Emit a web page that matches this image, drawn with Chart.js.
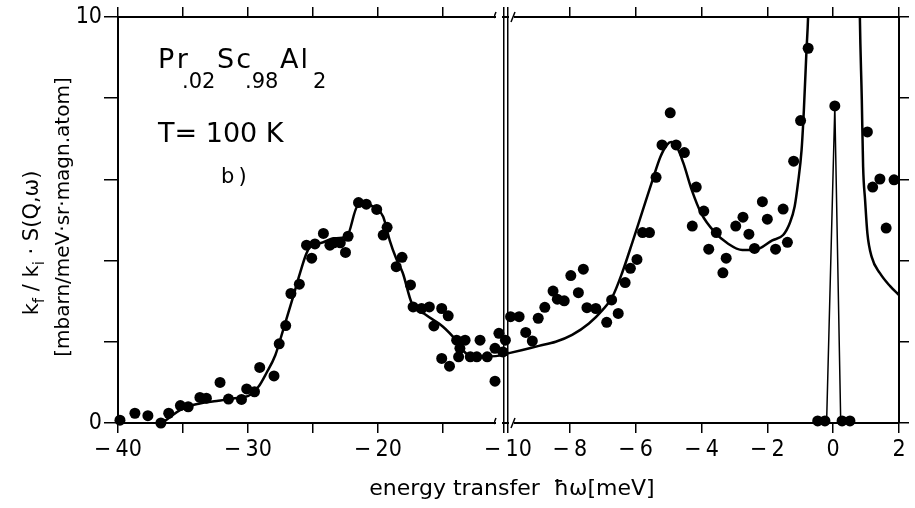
<!DOCTYPE html>
<html>
<head>
<meta charset="utf-8">
<script src="https://cdn.jsdelivr.net/npm/chart.js@4.4.0/dist/chart.umd.min.js"></script>
<style>
  html, body { margin: 0; padding: 0; background: #fff; }
  #wrap { position: relative; width: 915px; height: 508px; }
  #left { position: absolute; left: 0; top: 0; }
  #right { position: absolute; left: 494px; top: 0; }
</style>
</head>
<body>
<div id="wrap">
  <canvas id="left" width="915" height="508"></canvas>
  <canvas id="right" width="421" height="508"></canvas>
</div>
<script>
// measured points, left part of the broken axis (-40 ... -10 meV)
var leftX = [-39.85, -38.7, -37.7, -36.7, -36.1, -35.2, -34.6, -33.7, -33.2, -32.15,
  -31.5, -30.5, -30.1, -29.5, -29.1, -28.0, -27.6, -27.1, -26.7, -26.05,
  -25.5, -25.1, -24.85, -24.2, -23.7, -23.4, -22.9, -22.5, -22.3, -21.5,
  -20.9, -20.1, -19.6, -19.3, -18.6, -18.15, -17.5, -17.3, -16.65, -16.05,
  -15.7, -15.1, -14.6, -15.1, -14.5, -13.95, -13.7, -13.3, -13.8, -12.9,
  -12.15, -12.4, -11.6, -11.0, -10.7, -10.2, -11.0, -10.4];
var leftY = [0.07, 0.24, 0.18, 0.0, 0.24, 0.43, 0.40, 0.63, 0.61, 1.0,
  0.59, 0.58, 0.84, 0.77, 1.37, 1.16, 1.95, 2.40, 3.19, 3.42,
  4.38, 4.06, 4.41, 4.67, 4.38, 4.44, 4.44, 4.2, 4.6, 5.43,
  5.39, 5.26, 4.63, 4.82, 3.85, 4.08, 3.40, 2.86, 2.82, 2.86,
  2.39, 2.82, 2.64, 1.59, 1.40, 2.04, 1.84, 2.04, 1.63, 1.63,
  2.04, 1.63, 1.63, 1.84, 2.21, 2.04, 1.03, 1.75];

// fitted curve, left part
var leftFitX = [-36.6, -35, -33.7, -32.4, -31.2, -29.85, -29.2, -28.6, -27.9, -27.3,
  -26.6, -26.0, -25.5, -25.0, -24.5, -23.4, -22.4, -21.6, -20.9, -20.1,
  -19.6, -19.1, -18.6, -18.1, -17.4, -16.3, -15.0, -14.0, -13.2, -11.9, -10.4, -10];
var leftFitY = [0.0, 0.36, 0.48, 0.54, 0.6, 0.69, 0.89, 1.22, 1.67, 2.29,
  3.03, 3.69, 4.18, 4.43, 4.43, 4.55, 4.59, 5.33, 5.39, 5.27,
  5.08, 4.5, 4.05, 3.7, 2.95, 2.66, 2.37, 2.04, 1.71, 1.63, 1.67, 1.69];

// measured points, right part (-10 ... 2 meV)
var rightX = [-9.80, -9.54, -9.34, -9.14, -8.96, -8.76, -8.51, -8.38, -8.17, -7.97,
  -7.74, -7.59, -7.48, -7.21, -6.88, -6.73, -6.53, -6.32, -6.16, -5.96,
  -5.79, -5.58, -5.38, -5.20, -4.95, -4.77, -4.52, -4.16, -3.93, -4.28,
  -3.78, -3.55, -3.35, -3.25, -2.96, -2.74, -2.56, -2.39, -2.15, -2.0,
  -1.75, -1.52, -1.39, -1.2, -0.99, -0.76, -0.47, -0.25, 0.05, 0.27,
  0.51, 1.04, 1.2, 1.42, 1.61, 1.85];
var rightY = [2.62, 2.62, 2.23, 2.02, 2.58, 2.85, 3.25, 3.05, 3.01, 3.63,
  3.21, 3.79, 2.84, 2.82, 2.48, 3.03, 2.70, 3.46, 3.81, 4.03,
  4.69, 4.69, 6.05, 6.85, 7.64, 6.85, 6.66, 5.81, 5.22, 4.85,
  4.28, 4.69, 3.70, 4.06, 4.85, 5.07, 4.65, 4.30, 5.45, 5.02,
  4.28, 5.27, 4.45, 6.45, 7.45, 9.23, 0.05, 0.05, 7.81, 0.05,
  0.05, 7.17, 5.81, 6.01, 4.80, 5.99];

// fitted curve, right part (null = gap where it leaves the frame)
var rightFitX = [-10, -9.44, -8.94, -8.43, -7.93, -7.42, -7.01, -6.71, -6.41, -6.10,
  -5.80, -5.50, -5.25, -5.05, -4.92, -4.75, -4.55, -4.30, -4.0, -3.6,
  -3.2, -2.76, -2.35, -1.85, -1.52, -1.32, -1.17, -1.07, -0.96, -0.89,
  -0.81, -0.76, -0.72, 0, 0.79, 0.81, 0.87, 0.91, 0.97, 1.04,
  1.17, 1.42, 1.73, 2.0];
var rightFitY = [1.69, 1.80, 1.90, 2.0, 2.17, 2.45, 2.78, 3.1, 3.7, 4.45,
  5.2, 5.95, 6.55, 6.85, 6.92, 6.8, 6.4, 5.75, 5.15, 4.7,
  4.42, 4.26, 4.27, 4.5, 4.63, 4.92, 5.33, 5.9, 6.72, 7.71,
  9.19, 10.05, 11.5, null, 11.5, 10.05, 7.96, 6.31, 5.49, 4.67,
  4.09, 3.69, 3.37, 3.15];

// elastic line
var elasticX = [-0.2, 0.05, 0.23];
var elasticY = [0, 7.8, 0];

var leftTicks = [-40, -30, -20, -10];
var rightTicks = [-8, -6, -4, -2, 0, 2];
var yTicks = [0, 10];

function pts(xs, ys) {
  return xs.map(function (x, i) { return {x: x, y: ys[i]}; });
}
function fmt(v) {
  return v < 0 ? '\u2212\u2009' + Math.abs(v) : String(v);
}
function fixSize(prop, size) {
  return function (scale) { scale[prop] = size; };
}

var tickFont = {family: '"DejaVu Sans Condensed", "DejaVu Sans", sans-serif', size: 23};
var textFont = '"DejaVu Sans", sans-serif';

function markGrid(len) {
  return {drawOnChartArea: false, tickLength: len, color: '#000', lineWidth: 1.5};
}
function dots(xs, ys) {
  return {data: pts(xs, ys), backgroundColor: '#000', borderColor: '#000',
    pointRadius: 5.5, pointHoverRadius: 5.5, borderWidth: 0, clip: false};
}
function curve(xs, ys) {
  return {type: 'line', data: pts(xs, ys), borderColor: '#000', borderWidth: 2.5,
    pointRadius: 0, fill: false, cubicInterpolationMode: 'monotone', spanGaps: false};
}

var baseOptions = {
  responsive: false,
  animation: false,
  devicePixelRatio: 1,
  events: [],
  layout: {padding: 0},
  plugins: {legend: {display: false}, tooltip: {enabled: false}}
};

// annotations and axis titles, drawn on the left canvas
var labelsPlugin = {
  id: 'labels',
  afterDraw: function (chart) {
    var ctx = chart.ctx;
    ctx.save();
    ctx.fillStyle = '#000';
    ctx.textBaseline = 'alphabetic';
    ctx.textAlign = 'left';
    var big = '27px ' + textFont, sub = '21px ' + textFont;
    [['Pr', 158, 68, big, 3], ['.02', 182, 88, sub, 0], ['Sc', 217, 68, big, 2], ['.98', 245, 88, sub, 0],
     ['Al', 280, 68, big, 2], ['2', 313, 88, sub, 0],
     ['T= 100 K', 158, 142, '27px ' + textFont, 0], ['b\u2009)', 221, 183, '21px ' + textFont, 0]
    ].forEach(function (t) {
      ctx.font = t[3];
      ctx.letterSpacing = t[4] + 'px';
      ctx.fillText(t[0], t[1], t[2]);
    });
    ctx.letterSpacing = '0px';

    // x title
    ctx.font = '22px ' + textFont;
    ctx.textAlign = 'center';
    ctx.fillText('energy transfer  \u0127\u03c9[meV]', 512, 495);

    // y title, two rotated lines
    ctx.textAlign = 'left';
    var parts = [['k', 0], ['f', 1], [' / ', 0], ['k', 0], ['i', 1], [' \u00b7 S(Q,\u03c9)', 0]];
    var mainF = '21px ' + textFont, subF = '15px ' + textFont;
    var total = 0;
    parts.forEach(function (p) { ctx.font = p[1] ? subF : mainF; total += ctx.measureText(p[0]).width; });
    ctx.save();
    ctx.translate(38, 243);
    ctx.rotate(-Math.PI / 2);
    var x = -total / 2;
    parts.forEach(function (p) {
      ctx.font = p[1] ? subF : mainF;
      ctx.fillText(p[0], x, p[1] ? 6 : 0);
      x += ctx.measureText(p[0]).width;
    });
    ctx.restore();

    ctx.save();
    ctx.translate(69, 217);
    ctx.rotate(-Math.PI / 2);
    ctx.font = '20px ' + textFont;
    ctx.textAlign = 'center';
    ctx.fillText('[mbarn/meV\u00b7sr\u00b7magn.atom]', 0, 0);
    ctx.restore();
    ctx.restore();
  }
};

// axis break marks, drawn on the right canvas (on top)
var breakPlugin = {
  id: 'breaks',
  afterDraw: function (chart) {
    var ctx = chart.ctx, a = chart.chartArea;
    ctx.save();
    [a.top, a.bottom].forEach(function (y) {
      ctx.fillStyle = '#fff';
      ctx.fillRect(a.left - 8, y - 2, 6, 4);
      ctx.fillRect(a.left + 5, y - 2, 5, 4);
      ctx.strokeStyle = '#000';
      ctx.lineWidth = 1.5;
      ctx.beginPath();
      ctx.moveTo(a.left - 12, y + 5); ctx.lineTo(a.left - 8, y - 5);
      ctx.moveTo(a.left + 7, y + 5); ctx.lineTo(a.left + 11, y - 5);
      ctx.stroke();
    });
    ctx.restore();
  }
};

new Chart(document.getElementById('left'), {
  type: 'scatter',
  data: {datasets: [dots(leftX, leftY), curve(leftFitX, leftFitY)]},
  options: Object.assign({}, baseOptions, {
    scales: {
      x: {
        type: 'linear', position: 'bottom', min: -40, max: -10,
        afterFit: fixSize('height', 85),
        ticks: {stepSize: 5, autoSkip: false, maxRotation: 0, padding: 3, color: '#000', font: tickFont,
          callback: function (v) { return leftTicks.indexOf(v) >= 0 ? fmt(v) : ''; }},
        grid: markGrid(10),
        border: {color: '#000', width: 2}
      },
      xTop: {
        type: 'linear', position: 'top', min: -40, max: -10,
        afterFit: fixSize('height', 17),
        ticks: {stepSize: 5, autoSkip: false, display: false},
        grid: markGrid(10),
        border: {color: '#000', width: 2}
      },
      y: {
        type: 'linear', position: 'left', min: 0, max: 10,
        afterFit: fixSize('width', 118),
        ticks: {stepSize: 2, autoSkip: false, padding: 2, color: '#000', font: tickFont,
          callback: function (v) { return yTicks.indexOf(v) >= 0 ? String(v) : ''; }},
        grid: markGrid(14),
        border: {color: '#000', width: 2}
      },
      yRight: {
        type: 'linear', position: 'right', min: 0, max: 10,
        afterFit: fixSize('width', 407),
        ticks: {display: false},
        grid: {display: false},
        border: {color: '#000', width: 1.5}
      }
    }
  }),
  plugins: [labelsPlugin]
});

new Chart(document.getElementById('right'), {
  type: 'scatter',
  data: {datasets: [dots(rightX, rightY), curve(rightFitX, rightFitY),
    {type: 'line', data: pts(elasticX, elasticY), borderColor: '#000', borderWidth: 1.5,
      pointRadius: 0, fill: false, tension: 0}]},
  options: Object.assign({}, baseOptions, {
    scales: {
      x: {
        type: 'linear', position: 'bottom', min: -10, max: 2,
        afterFit: fixSize('height', 85),
        ticks: {stepSize: 2, autoSkip: false, maxRotation: 0, padding: 3, color: '#000', font: tickFont,
          callback: function (v) { return rightTicks.indexOf(v) >= 0 ? fmt(v) : ''; }},
        grid: markGrid(10),
        border: {color: '#000', width: 2}
      },
      xTop: {
        type: 'linear', position: 'top', min: -10, max: 2,
        afterFit: fixSize('height', 17),
        ticks: {stepSize: 2, autoSkip: false, display: false},
        grid: markGrid(10),
        border: {color: '#000', width: 2}
      },
      y: {
        type: 'linear', position: 'left', min: 0, max: 10,
        afterFit: fixSize('width', 10),
        ticks: {display: false},
        grid: {display: false},
        border: {color: '#000', width: 1.5}
      },
      yRight: {
        type: 'linear', position: 'right', min: 0, max: 10,
        afterFit: fixSize('width', 16),
        ticks: {stepSize: 2, display: false},
        grid: markGrid(10),
        border: {color: '#000', width: 2}
      }
    }
  }),
  plugins: [breakPlugin]
});
</script>
</body>
</html>
